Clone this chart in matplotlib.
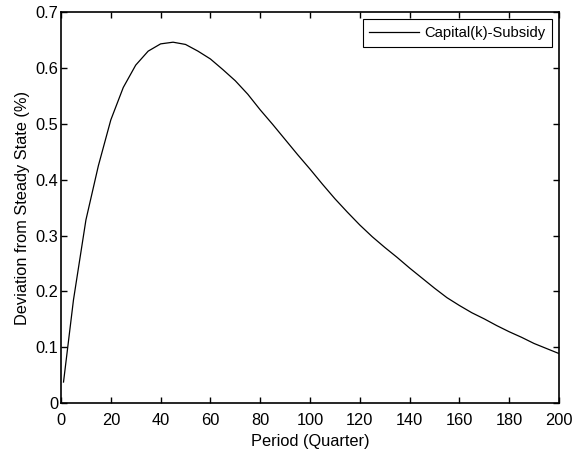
import matplotlib
matplotlib.use("Agg")
import matplotlib.pyplot as plt

# ----------------------------
# Values
# ----------------------------
period = [1, 5, 10, 15, 20, 25, 30, 35, 40, 45, 50, 55, 60, 65, 70, 75, 80, 85,
          90, 95, 100, 105, 110, 115, 120, 125, 130, 135, 140, 145, 150, 155,
          160, 165, 170, 175, 180, 185, 190, 195, 200]
capital_subsidy = [0.038, 0.185, 0.328, 0.425, 0.507, 0.565, 0.605, 0.630, 0.643,
                   0.646, 0.642, 0.630, 0.616, 0.597, 0.577, 0.553, 0.525, 0.499,
                   0.472, 0.445, 0.419, 0.392, 0.366, 0.342, 0.319, 0.298, 0.279,
                   0.261, 0.242, 0.224, 0.206, 0.189, 0.175, 0.162, 0.151, 0.139,
                   0.128, 0.118, 0.107, 0.098, 0.089]
xticks = [0, 20, 40, 60, 80, 100, 120, 140, 160, 180, 200]
yticks = [0, 0.1, 0.2, 0.3, 0.4, 0.5, 0.6, 0.7]

plt.rcParams["font.family"] = ["Liberation Sans", "DejaVu Sans"]
plt.rcParams["font.size"] = 11.8

fig = plt.figure(figsize=(5.73, 4.5), dpi=100)
ax = fig.add_axes([0.1065, 0.1038, 0.869, 0.8695])

ax.plot(period, capital_subsidy, color="black", linewidth=0.9, label="Capital(k)-Subsidy")

ax.set_xlim(0, 200)
ax.set_ylim(0, 0.7)
ax.set_xticks(xticks)
ax.set_yticks(yticks)
ax.set_xticklabels([str(t) for t in xticks])
ax.set_yticklabels(["0", "0.1", "0.2", "0.3", "0.4", "0.5", "0.6", "0.7"])
ax.tick_params(direction="in", top=True, right=True, length=4, width=1, pad=2)
ax.tick_params(axis="x", pad=7)
for s in ax.spines.values():
    s.set_linewidth(1.2)

ax.set_xlabel("Period (Quarter)", labelpad=4)
ax.set_ylabel("Deviation from Steady State (%)", labelpad=4)

leg = ax.legend(loc="upper right", fontsize=10.6, fancybox=False, framealpha=1,
                edgecolor="black", handlelength=3.4, handletextpad=0.3,
                borderaxespad=0.5, borderpad=0.45)
leg.get_frame().set_linewidth(0.8)

fig.savefig("out.png", dpi=100)
